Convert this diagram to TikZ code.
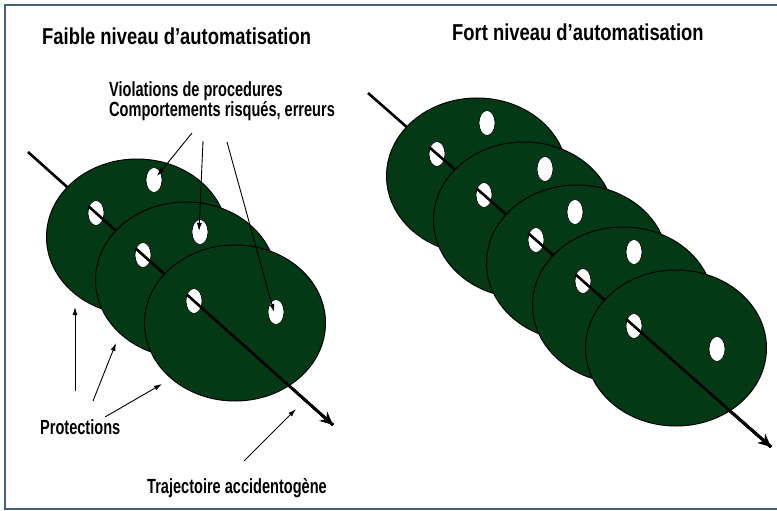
\documentclass[tikz,border=0pt]{standalone}
\usepackage{fontspec}
\setmainfont{Liberation Sans}
\newfontfamily\titlefont{Liberation Sans}[FakeStretch=0.80]
\newfontfamily\labelfont{Liberation Sans}[FakeStretch=0.71]
\usetikzlibrary{arrows.meta,calc,shapes.geometric}
\definecolor{discgreen}{RGB}{3,58,21}
\definecolor{framecol}{RGB}{70,95,125}
\begin{document}
\begin{tikzpicture}[x=1pt,y=-1pt,
 disc/.style={ellipse, draw=black, line width=1pt, fill=discgreen, minimum width=181pt, minimum height=156pt, inner sep=0pt},
 hole/.style={ellipse, draw=black, line width=0.6pt, fill=white, minimum width=16pt, minimum height=25pt, inner sep=0pt},
 traj/.style={line width=2.6pt, draw=black},
 trajtip/.style={traj, -{Stealth[length=13pt,width=12pt,inset=4pt]}},
 pointer/.style={line width=0.9pt, draw=black, -{Latex[length=8pt,width=5pt]}},
 titletext/.style={font=\titlefont\bfseries\fontsize{23}{27}\selectfont, anchor=base west, inner sep=0pt},
 labeltext/.style={font=\labelfont\bfseries\fontsize{20.5}{24}\selectfont, anchor=base west, inner sep=0pt},
 framestyle/.style={draw=framecol, line width=2pt}
]
\useasboundingbox (0,0) rectangle (777,511);
\fill[white] (0,0) rectangle (777,511);
% frame
\coordinate (fa) at (777,5);
\coordinate (fb) at (5,5);
\coordinate (fc) at (5,509);
\coordinate (fd) at (777,509);
\draw[framestyle] (fa) -- (fb) -- (fc) -- (fd);

% titles
\node[titletext] (t1) at (42,45) {Faible niveau d’automatisation};
\node[titletext] (t2) at (452,41) {Fort niveau d’automatisation};

% ---------- left group ----------
\coordinate (LS) at (28,152);
\coordinate (LE) at (333,425);
\draw[traj] (LS) -- (LE);
\node[disc] (L1) at (137,237) {};
\node[hole] (L1a) at (96,213) {};
\node[hole] (L1b) at (154,180) {};
\draw[traj] ($(L1a)!10pt!(LS)$) -- (LE);
\node[disc] (L2) at (186,280) {};
\node[hole] (L2a) at (143,255) {};
\node[hole] (L2b) at (200,232) {};
\draw[traj] ($(L2a)!10pt!(LS)$) -- (LE);
\node[disc] (L3) at (235,323) {};
\node[hole] (L3a) at (194,301) {};
\node[hole] (L3b) at (276,312) {};
\draw[trajtip] ($(L3a)!10pt!(LS)$) -- (LE);

% ---------- right group ----------
\coordinate (RS) at (368,93);
\coordinate (RE) at (771,447);
\draw[traj] (RS) -- (RE);
\node[disc] (R1) at (477,176) {};
\node[hole] (R1a) at (437,154) {};
\node[hole] (R1b) at (487,123) {};
\draw[traj] ($(R1a)!10pt!(RS)$) -- (RE);
\node[disc] (R2) at (524,220) {};
\node[hole] (R2a) at (484,195) {};
\node[hole] (R2b) at (545,169) {};
\draw[traj] ($(R2a)!10pt!(RS)$) -- (RE);
\node[disc] (R3) at (577,263) {};
\node[hole] (R3a) at (536,240) {};
\node[hole] (R3b) at (575,212) {};
\draw[traj] ($(R3a)!10pt!(RS)$) -- (RE);
\node[disc] (R4) at (623,305) {};
\node[hole] (R4a) at (583,281) {};
\node[hole] (R4b) at (634,252) {};
\draw[traj] ($(R4a)!10pt!(RS)$) -- (RE);
\node[disc] (R5) at (676,348) {};
\node[hole] (R5a) at (634,326) {};
\node[hole] (R5b) at (717,349) {};
\draw[trajtip] ($(R5a)!10pt!(RS)$) -- (RE);

% labels
\node[labeltext] (viol) at (109,96) {Violations de procedures};
\node[labeltext] (comp) at (109,117) {Comportements risqués, erreurs};
\node[labeltext] (prot) at (40,434) {Protections};
\node[labeltext] (trajlab) at (147,493) {Trajectoire accidentogène};

% pointers from the upper label
\coordinate (p1s) at (192,133); \coordinate (p1e) at (157,176);
\coordinate (p2s) at (203,141); \coordinate (p2e) at (199,231);
\coordinate (p3s) at (227,142); \coordinate (p3e) at (274,312);
\draw[pointer] (p1s) -- (p1e);
\draw[pointer] (p2s) -- (p2e);
\draw[pointer] (p3s) -- (p3e);

% pointers from Protections
\coordinate (q1s) at (75,391); \coordinate (q1e) at (75,307);
\coordinate (q2s) at (93,401); \coordinate (q2e) at (116,343);
\coordinate (q3s) at (105,417); \coordinate (q3e) at (162,384);
\draw[pointer] (q1s) -- (q1e);
\draw[pointer] (q2s) -- (q2e);
\draw[pointer] (q3s) -- (q3e);

% pointer from Trajectoire
\coordinate (r1s) at (244,461); \coordinate (r1e) at (296,409);
\draw[pointer] (r1s) -- (r1e);
\end{tikzpicture}
\end{document}
